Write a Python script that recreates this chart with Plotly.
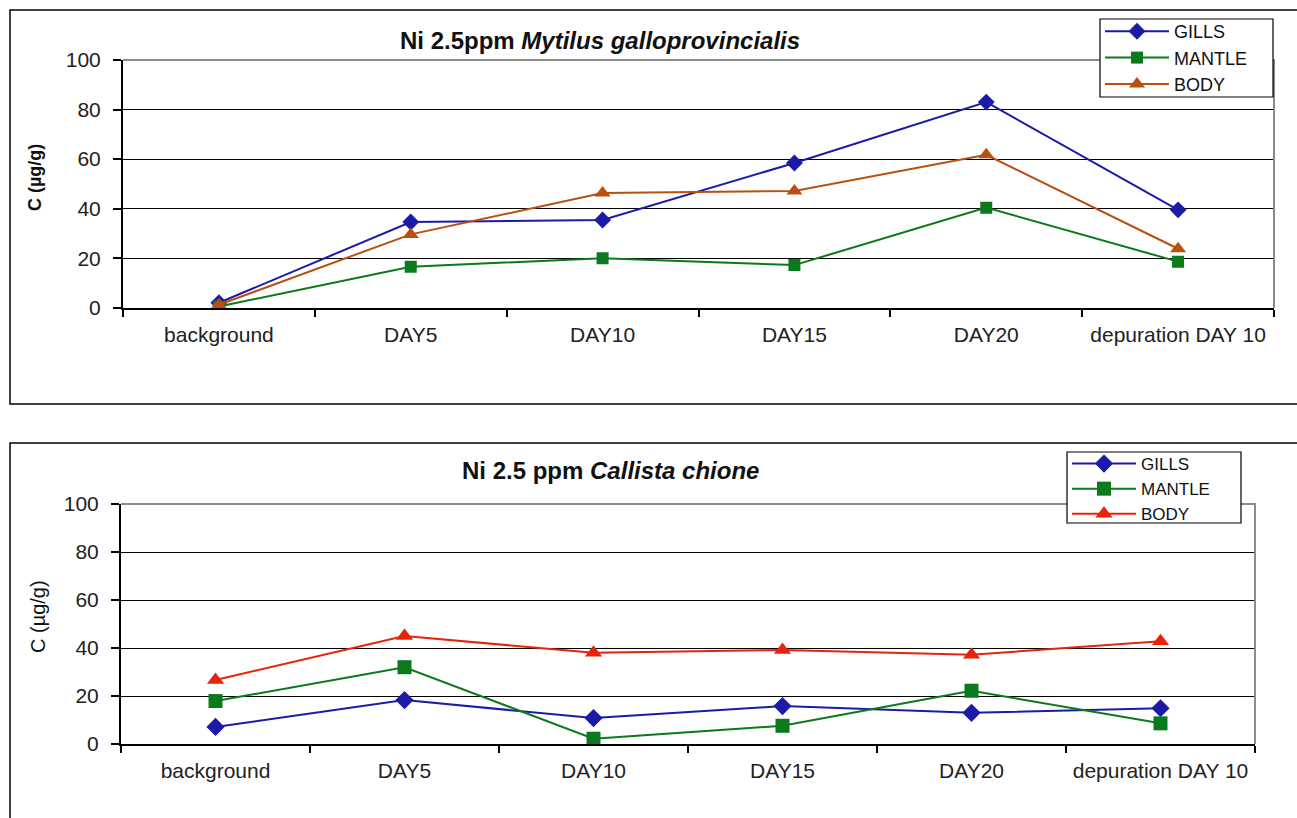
import plotly.graph_objects as go

categories = ["background", "DAY5", "DAY10", "DAY15", "DAY20", "depuration DAY 10"]
series_names = ["GILLS", "MANTLE", "BODY"]

# Top panel: Ni 2.5ppm Mytilus galloprovincialis
mytilus_gills = [2.0, 34.6, 35.4, 58.4, 83.0, 39.5]
mytilus_mantle = [0.5, 16.5, 20.0, 17.2, 40.4, 18.6]
mytilus_body = [1.2, 29.6, 46.3, 47.1, 61.7, 23.8]

# Bottom panel: Ni 2.5 ppm Callista chione
callista_gills = [7.1, 18.3, 10.8, 15.8, 13.0, 14.9]
callista_mantle = [17.9, 32.0, 2.2, 7.6, 22.2, 8.6]
callista_body = [26.7, 45.0, 38.0, 39.2, 37.2, 42.8]

W, H = 1297, 818
BLUE = "#1b1ba8"
GREEN = "#0a7a1c"
BROWN = "#b9500f"
RED = "#e8230c"
FONT = "Liberation Sans, Arial, sans-serif"

def px(x):
    return x / W

def py(y):
    return 1 - y / H

fig = go.Figure()

top_series = [(mytilus_gills, BLUE, "diamond", 13), (mytilus_mantle, GREEN, "square", 12), (mytilus_body, BROWN, "triangle-up", 14)]
bot_series = [(callista_gills, BLUE, "diamond", 14), (callista_mantle, GREEN, "square", 14), (callista_body, RED, "triangle-up", 15)]

for name, (vals, col, sym, sz) in zip(series_names, top_series):
    fig.add_trace(go.Scatter(x=categories, y=vals, name=name, mode="lines+markers",
                             line=dict(color=col, width=2),
                             marker=dict(symbol=sym, size=sz, color=col),
                             xaxis="x", yaxis="y", legend="legend"))
for name, (vals, col, sym, sz) in zip(series_names, bot_series):
    fig.add_trace(go.Scatter(x=categories, y=vals, name=name, mode="lines+markers",
                             line=dict(color=col, width=2),
                             marker=dict(symbol=sym, size=sz, color=col),
                             xaxis="x2", yaxis="y2", legend="legend2"))

# plot-area pixel boxes
top_box = (123, 60, 1274, 307.7)
bot_box = (121, 504, 1255, 744)
# legend frame pixel boxes
top_leg = (1100, 19, 1273, 97)
bot_leg = (1067, 452, 1241, 523)

def xaxis_cfg(box):
    return dict(domain=[px(box[0]), px(box[2])], type="category", categoryorder="array",
                categoryarray=categories, tickson="boundaries", ticks="outside", ticklen=7,
                tickcolor="#000", tickwidth=1.5, showline=True, linecolor="#000", linewidth=2,
                showgrid=False, zeroline=False, tickfont=dict(family=FONT, size=21, color="#222"),
                ticklabelstandoff=7, automargin=False,
                range=[-0.5, 5.5], fixedrange=True)

def yaxis_cfg(box, anchor):
    return dict(domain=[py(box[3]), py(box[1])], range=[0, 100], dtick=20, tick0=0,
                ticks="outside", ticklen=8, tickcolor="#000", tickwidth=1.5,
                showline=True, linecolor="#000", linewidth=2, showgrid=True,
                gridcolor="#000", gridwidth=1, zeroline=False, anchor=anchor,
                ticklabelstandoff=8, automargin=False,
                tickfont=dict(family=FONT, size=21, color="#222"), fixedrange=True)

fig.update_layout(
    width=W, height=H, margin=dict(l=0, r=0, t=0, b=0, autoexpand=False),
    paper_bgcolor="white", plot_bgcolor="white",
    xaxis=dict(**xaxis_cfg(top_box), anchor="y"),
    yaxis=yaxis_cfg(top_box, "x"),
    xaxis2=dict(**xaxis_cfg(bot_box), anchor="y2"),
    yaxis2=yaxis_cfg(bot_box, "x2"),
    legend=dict(x=px(1100), y=py(13), xanchor="left", yanchor="top",
                borderwidth=0, bgcolor="rgba(0,0,0,0)", itemwidth=64,
                font=dict(family=FONT, size=18, color="#111"), tracegroupgap=0),
    legend2=dict(x=px(1067), y=py(446), xanchor="left", yanchor="top",
                 borderwidth=0, bgcolor="rgba(0,0,0,0)", itemwidth=64,
                 font=dict(family=FONT, size=17, color="#111"), tracegroupgap=0),
    showlegend=True,
)

shapes = []
# outer panel borders
shapes.append(dict(type="rect", xref="paper", yref="paper", x0=px(10), x1=px(1310), y0=py(404), y1=py(10),
                   line=dict(color="#000", width=1.5), layer="below"))
shapes.append(dict(type="rect", xref="paper", yref="paper", x0=px(10), x1=px(1310), y0=py(830), y1=py(443),
                   line=dict(color="#000", width=1.5), layer="below"))
# gray top/right frame of plot areas
for b in (top_box, bot_box):
    shapes.append(dict(type="path", xref="paper", yref="paper",
                       path=f"M {px(b[0])},{py(b[1])} L {px(b[2])},{py(b[1])} L {px(b[2])},{py(b[3])}",
                       line=dict(color="#8c8c8c", width=2), layer="above"))
# legend frames (white filled, black border)
for b in (top_leg, bot_leg):
    shapes.append(dict(type="rect", xref="paper", yref="paper", x0=px(b[0]), x1=px(b[2]),
                       y0=py(b[3]), y1=py(b[1]), fillcolor="white",
                       line=dict(color="#000", width=1.2), layer="above"))
fig.update_layout(shapes=shapes)

annotations = [
    dict(x=px(600), y=py(40), xref="paper", yref="paper", showarrow=False, yanchor="middle",
         text="<b>Ni 2.5ppm <i>Mytilus galloprovincialis</i></b>",
         font=dict(family=FONT, size=24, color="#111")),
    dict(x=px(610), y=py(470), xref="paper", yref="paper", showarrow=False, yanchor="middle",
         text="<b>Ni 2.5 ppm <i>Callista chione</i></b>",
         font=dict(family=FONT, size=24, color="#111")),
    dict(x=px(35), y=py(178), xref="paper", yref="paper", showarrow=False, textangle=-90,
         yanchor="middle", xanchor="center",
         text="<b>C (µg/g)</b>", font=dict(family=FONT, size=18, color="#111")),
    dict(x=px(38), y=py(617), xref="paper", yref="paper", showarrow=False, textangle=-90,
         yanchor="middle", xanchor="center",
         text="C (µg/g)", font=dict(family=FONT, size=20, color="#111")),
]
fig.update_layout(annotations=annotations)

fig.write_html("out.html", config={"displayModeBar": False},
               post_script="document.body.style.margin='0';document.body.style.overflow='hidden';")
